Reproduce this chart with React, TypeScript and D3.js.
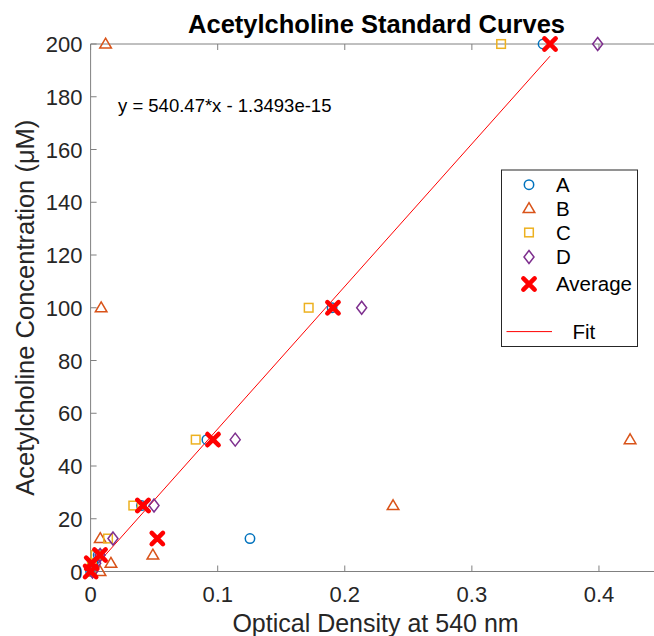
import React from "react";
import * as d3 from "d3";

const concentrations = [200, 100, 50, 25, 12.5, 6.25, 3.125, 0];
const seriesA = [0.356, 0.19, 0.0915, 0.04, 0.1254, 0.006, 0.002, 0.0];
const seriesB = [0.0118, 0.0083, 0.4245, 0.238, 0.0076, 0.049, 0.016, 0.0074];
const seriesC = [0.323, 0.1716, 0.0827, 0.0336, 0.0137, 0.004, 0.001, 0.001];
const seriesD = [0.399, 0.2133, 0.1138, 0.0499, 0.0176, 0.0075, 0.004, 0.0015];
const averages = [0.3615, 0.1907, 0.0963, 0.0412, 0.0525, 0.0074, 0.0009, 0.0];
const slope = 540.47;
const fitRange = [0, 0.3615];
const xTicks = [0, 0.1, 0.2, 0.3, 0.4];
const yTicks = [0, 20, 40, 60, 80, 100, 120, 140, 160, 180, 200];
const legendLabels = ["A", "B", "C", "D", "Average", "Fit"];

const W = 654;
const H = 636;
const FONT = "'Liberation Sans', Arial, Helvetica, sans-serif";
const AX = "#808080";
const TXT = "#262626";
const colors = { A: "#0072BD", B: "#D95319", C: "#EDB120", D: "#7E2F8E", avg: "#FF0000" };

const x = d3.scaleLinear().domain([0, 0.45]).range([90.6, 662.5]);
const y = d3.scaleLinear().domain([0, 200]).range([571.5, 44]);

type Kind = "circle" | "triangle" | "square" | "diamond" | "x";

function Marker({ kind, cx, cy, color }: { kind: Kind; cx: number; cy: number; color: string }) {
  const sw = 1.5;
  if (kind === "circle") return <circle cx={cx} cy={cy} r={4.7} fill="none" stroke={color} strokeWidth={sw} />;
  if (kind === "square") return <rect x={cx - 4.3} y={cy - 4.3} width={8.6} height={8.6} fill="none" stroke={color} strokeWidth={sw} />;
  if (kind === "triangle")
    return (
      <path d={`M${cx},${cy - 5.8}L${cx + 5.8},${cy + 4}L${cx - 5.8},${cy + 4}Z`} fill="none" stroke={color} strokeWidth={sw} />
    );
  if (kind === "diamond")
    return (
      <path d={`M${cx},${cy - 6.5}L${cx + 5},${cy}L${cx},${cy + 6.5}L${cx - 5},${cy}Z`} fill="none" stroke={color} strokeWidth={sw} />
    );
  const s = 5.6;
  return (
    <path d={`M${cx - s},${cy - s}L${cx + s},${cy + s}M${cx - s},${cy + s}L${cx + s},${cy - s}`} stroke={color} strokeWidth={4.6} strokeLinecap="round" />
  );
}

const seriesList: { name: string; vals: number[]; kind: Kind; color: string }[] = [
  { name: "A", vals: seriesA, kind: "circle", color: colors.A },
  { name: "B", vals: seriesB, kind: "triangle", color: colors.B },
  { name: "C", vals: seriesC, kind: "square", color: colors.C },
  { name: "D", vals: seriesD, kind: "diamond", color: colors.D },
  { name: "Average", vals: averages, kind: "x", color: colors.avg },
];

export default function App() {
  const [x0, x1] = x.range();
  const [y0, y1] = y.range();
  const fitLine = d3.line<number>().x((d) => x(d)).y((d) => y(slope * d));
  const legX = 501.5, legY = 170, legW = 136, legH = 176.5;
  const rowY = [184.7, 208.5, 232.5, 257, 284];
  return (
    <div style={{ position: "absolute", left: 0, top: 0 }}>
      <svg width={W} height={H} style={{ display: "block", background: "#fff" }} fontFamily={FONT}>
        <rect width={W} height={H} fill="#fff" />
        {/* axes box */}
        <line x1={x0} x2={x1} y1={y0} y2={y0} stroke={AX} strokeWidth={1} />
        <line x1={x0} x2={x1} y1={y1} y2={y1} stroke={AX} strokeWidth={1} />
        <line x1={x0} x2={x0} y1={y0} y2={y1} stroke={AX} strokeWidth={1} />
        {xTicks.map((t) => (
          <g key={"xt" + t}>
            <line x1={x(t)} x2={x(t)} y1={y0} y2={y0 - 6} stroke={AX} />
            <line x1={x(t)} x2={x(t)} y1={y1} y2={y1 + 6} stroke={AX} />
            <text x={x(t)} y={601.5} textAnchor="middle" fontSize={22} fill={TXT}>
              {t === 0 ? "0" : String(t)}
            </text>
          </g>
        ))}
        {yTicks.map((t) => (
          <g key={"yt" + t}>
            <line x1={x0} x2={x0 + 6} y1={y(t)} y2={y(t)} stroke={AX} />
            <text x={82.5} y={y(t) + 8} textAnchor="end" fontSize={22} fill={TXT}>
              {t}
            </text>
          </g>
        ))}
        {/* fit */}
        <path d={fitLine(fitRange) || ""} stroke="#FF0000" strokeWidth={1} fill="none" />
        {/* markers */}
        {seriesList.map((s) => (
          <g key={s.name}>
            {s.vals.map((v, i) => (
              <Marker key={i} kind={s.kind} cx={x(v)} cy={y(concentrations[i])} color={s.color} />
            ))}
          </g>
        ))}
        {/* title & labels */}
        <text x={(x0 + x1) / 2} y={33} textAnchor="middle" fontSize={25.5} fontWeight="bold" fill="#000">
          Acetylcholine Standard Curves
        </text>
        <text x={375.5} y={632} textAnchor="middle" fontSize={25} fill={TXT}>
          Optical Density at 540 nm
        </text>
        <text transform={`translate(33.5,${(y0 + y1) / 2}) rotate(-90)`} textAnchor="middle" fontSize={25.5} fill={TXT}>
          Acetylcholine Concentration (μM)
        </text>
        <text x={118} y={111.5} fontSize={18.5} fill="#000">
          y = 540.47*x - 1.3493e-15
        </text>
        {/* legend */}
        <rect x={legX} y={legY} width={legW} height={legH} fill="#fff" stroke={TXT} strokeWidth={1} />
        {seriesList.map((s, i) => (
          <g key={"lg" + s.name}>
            <Marker kind={s.kind} cx={529} cy={rowY[i]} color={s.color} />
            <text x={556} y={rowY[i] + 7.3} fontSize={20.5} fill="#000">
              {legendLabels[i]}
            </text>
          </g>
        ))}
        <line x1={506.5} x2={552} y1={331.6} y2={331.6} stroke="#FF0000" strokeWidth={1} />
        <text x={572.5} y={339} fontSize={20.5} fill="#000">
          {legendLabels[5]}
        </text>
      </svg>
    </div>
  );
}
